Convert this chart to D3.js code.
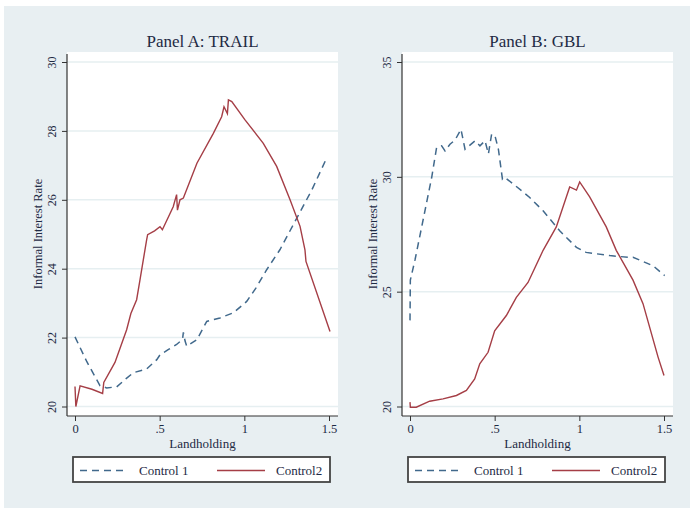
<!DOCTYPE html>
<html>
<head>
<meta charset="utf-8">
<script src="https://cdn.jsdelivr.net/npm/d3@7"></script>
<style>
  body { margin: 0; background: #fff; }
  svg { display: block; font-family: "Liberation Serif", "DejaVu Serif", serif; }
</style>
</head>
<body>
<svg id="chart" width="693" height="510"></svg>
<script>
// Panel A: TRAIL
const trailControl1 = [
    [0, 22.02], [0.07, 21.3], [0.148, 20.6], [0.187, 20.54], [0.246, 20.57], [0.3, 20.8],
    [0.344, 20.98], [0.423, 21.09], [0.483, 21.36], [0.502, 21.5], [0.55, 21.65], [0.6, 21.8],
    [0.635, 21.95], [0.64, 22.15], [0.65, 21.9], [0.66, 21.75], [0.72, 21.94], [0.778, 22.47],
    [0.856, 22.57], [0.935, 22.72], [1.014, 23.05], [1.07, 23.45], [1.132, 23.97], [1.21, 24.55],
    [1.31, 25.47], [1.4, 26.3], [1.486, 27.21]
];
const trailControl2 = [
    [0, 20.58], [0.005, 20.0], [0.03, 20.6], [0.1, 20.5], [0.163, 20.38], [0.17, 20.7],
    [0.236, 21.28], [0.305, 22.23], [0.33, 22.7], [0.364, 23.1], [0.384, 23.68], [0.423, 24.84],
    [0.429, 24.99], [0.47, 25.1], [0.502, 25.22], [0.516, 25.13], [0.58, 25.8], [0.6, 26.15],
    [0.605, 25.7], [0.62, 26.0], [0.64, 26.05], [0.72, 27.06], [0.817, 27.93], [0.866, 28.41],
    [0.88, 28.7], [0.9, 28.5], [0.906, 28.9], [0.926, 28.85], [1.004, 28.32], [1.112, 27.64],
    [1.191, 26.97], [1.27, 26.0], [1.329, 25.23], [1.358, 24.55], [1.364, 24.21], [1.506, 22.18]
];

// Panel B: GBL
const gblControl1 = [
    [0, 23.75], [0.002, 25.5], [0.03, 26.4], [0.069, 27.82], [0.128, 29.97], [0.157, 31.27],
    [0.187, 31.35], [0.207, 31.13], [0.236, 31.42], [0.266, 31.6], [0.301, 32.07], [0.325, 31.2],
    [0.384, 31.57], [0.413, 31.35], [0.443, 31.57], [0.463, 31.0], [0.482, 31.86], [0.502, 31.78],
    [0.522, 31.2], [0.546, 29.9], [0.561, 29.97], [0.66, 29.39], [0.707, 29.1], [0.786, 28.52],
    [0.884, 27.65], [0.983, 26.93], [1.04, 26.71], [1.18, 26.57], [1.298, 26.49], [1.317, 26.5],
    [1.435, 26.13], [1.504, 25.7]
];
const gblControl2 = [
    [0, 20.19], [0.002, 19.97], [0.037, 19.97], [0.116, 20.23], [0.195, 20.33], [0.274, 20.48],
    [0.333, 20.7], [0.382, 21.2], [0.412, 21.86], [0.461, 22.36], [0.5, 23.3], [0.569, 23.96],
    [0.628, 24.75], [0.697, 25.4], [0.786, 26.8], [0.864, 27.82], [0.943, 29.56], [0.983, 29.42],
    [1.002, 29.78], [1.061, 29.13], [1.159, 27.82], [1.218, 26.8], [1.317, 25.5], [1.376, 24.48],
    [1.465, 22.15], [1.5, 21.35]
];

const xTicks = [0, 0.5, 1, 1.5];
const xTickLabels = ["0", ".5", "1", "1.5"];
const trailYTicks = [20, 22, 24, 26, 28, 30];
const gblYTicks = [20, 25, 30, 35];
const seriesNames = ["Control 1", "Control2"];

const blue = "#41698c";
const red = "#a53e46";
const axisColor = "#333";
const textColor = "#1e2a44";

const svg = d3.select("#chart");

svg.append("rect")
    .attr("x", 4).attr("y", 6)
    .attr("width", 686).attr("height", 502)
    .attr("fill", "#e8eff2");

const panels = [
    { title: "Panel A: TRAIL", left: 67, right: 338, yDomain: [20, 30], yTicks: trailYTicks,
      c1: trailControl1, c2: trailControl2 },
    { title: "Panel B: GBL", left: 402, right: 673, yDomain: [20, 35], yTicks: gblYTicks,
      c1: gblControl1, c2: gblControl2 }
];

const plotTop = 52, plotBottom = 416;

panels.forEach(p => {
    const g = svg.append("g");
    const x = d3.scaleLinear().domain([0, 1.5]).range([p.left + 8, p.left + 262]);
    const y = d3.scaleLinear().domain(p.yDomain).range([406.5, 62]);

    g.append("rect")
        .attr("x", p.left).attr("y", plotTop)
        .attr("width", p.right - p.left).attr("height", plotBottom - plotTop)
        .attr("fill", "#fff");

    // grid
    g.selectAll("line.grid")
        .data(p.yTicks)
        .enter()
        .append("line")
        .attr("x1", p.left).attr("x2", p.right)
        .attr("y1", d => y(d)).attr("y2", d => y(d))
        .attr("stroke", "#e6eff1")
        .attr("stroke-width", 1.5);

    // y axis
    const yAxis = g.append("g")
        .attr("transform", `translate(${p.left},0)`)
        .call(d3.axisLeft(y).tickValues(p.yTicks).tickSize(5).tickFormat(d3.format("d")));
    yAxis.select(".domain").remove();
    yAxis.selectAll(".tick line").attr("stroke", axisColor);
    yAxis.selectAll(".tick text")
        .attr("x", null).attr("dy", null)
        .attr("transform", "translate(-11,0) rotate(-90)")
        .attr("text-anchor", "middle")
        .attr("fill", textColor)
        .style("font-size", "12px")
        .style("font-family", "Liberation Serif");
    g.append("line")
        .attr("x1", p.left).attr("x2", p.left)
        .attr("y1", plotTop + 2).attr("y2", plotBottom)
        .attr("stroke", axisColor).attr("stroke-width", 1.2);

    // x axis
    const xAxis = g.append("g")
        .attr("transform", `translate(0,${plotBottom})`)
        .call(d3.axisBottom(x).tickValues(xTicks).tickSize(5)
            .tickFormat((d, i) => xTickLabels[i]));
    xAxis.select(".domain").remove();
    xAxis.selectAll(".tick line").attr("stroke", axisColor);
    xAxis.selectAll(".tick text")
        .attr("y", 8)
        .attr("fill", textColor)
        .style("font-size", "12.5px")
        .style("font-family", "Liberation Serif");
    g.append("line")
        .attr("x1", p.left).attr("x2", p.right)
        .attr("y1", plotBottom).attr("y2", plotBottom)
        .attr("stroke", axisColor).attr("stroke-width", 1.2);

    // titles
    const cx = (p.left + p.right) / 2;
    g.append("text")
        .attr("x", cx).attr("y", 47)
        .attr("text-anchor", "middle")
        .attr("fill", textColor)
        .style("font-size", "17px")
        .text(p.title);
    g.append("text")
        .attr("x", cx).attr("y", 448)
        .attr("text-anchor", "middle")
        .attr("fill", textColor)
        .style("font-size", "13px")
        .text("Landholding");
    g.append("text")
        .attr("transform", `translate(${p.left - 25},${(plotTop + plotBottom) / 2}) rotate(-90)`)
        .attr("text-anchor", "middle")
        .attr("fill", textColor)
        .style("font-size", "12.5px")
        .text("Informal Interest Rate");

    // lines
    const line = d3.line().x(d => x(d[0])).y(d => y(d[1]));
    g.append("path")
        .datum(p.c1)
        .attr("d", line)
        .attr("fill", "none")
        .attr("stroke", blue)
        .attr("stroke-width", 1.5)
        .attr("stroke-dasharray", "7,5");
    g.append("path")
        .datum(p.c2)
        .attr("d", line)
        .attr("fill", "none")
        .attr("stroke", red)
        .attr("stroke-width", 1.4);

    // legend
    const lx = p.left + 6, lw = 257;
    const lg = g.append("g").attr("transform", `translate(${lx},457)`);
    lg.append("rect")
        .attr("width", lw).attr("height", 25)
        .attr("fill", "#fff")
        .attr("stroke", "#444")
        .attr("stroke-width", 1.8);
    lg.selectAll("line.key")
        .data(seriesNames)
        .enter()
        .append("line")
        .attr("x1", (d, i) => 7 + i * 137).attr("x2", (d, i) => 55 + i * 137)
        .attr("y1", 13.5).attr("y2", 13.5)
        .attr("stroke", (d, i) => i === 0 ? blue : red)
        .attr("stroke-width", 1.5)
        .attr("stroke-dasharray", (d, i) => i === 0 ? "7,5" : null);
    lg.selectAll("text.key")
        .data(seriesNames)
        .enter()
        .append("text")
        .attr("x", (d, i) => 66 + i * 137)
        .attr("y", 18)
        .attr("fill", textColor)
        .style("font-size", "13px")
        .text(d => d);
});
</script>
</body>
</html>
